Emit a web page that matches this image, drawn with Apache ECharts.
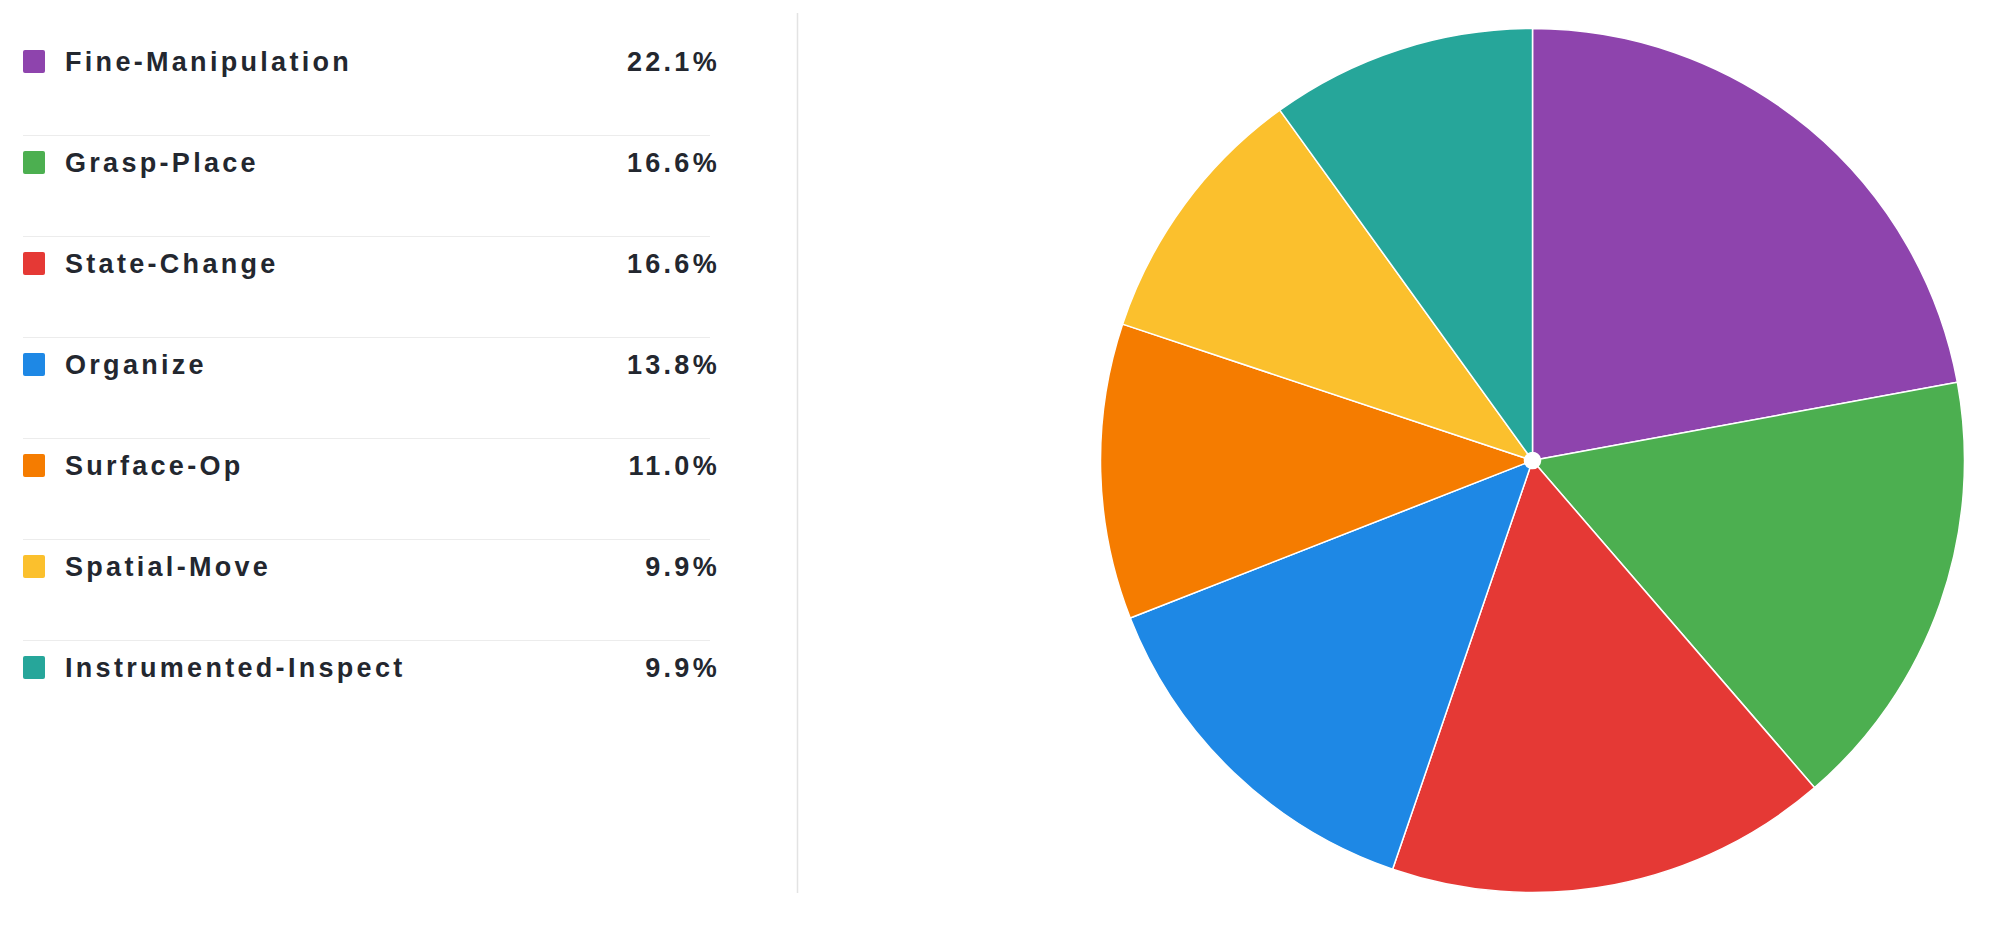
<!DOCTYPE html>
<html>
<head>
<meta charset="utf-8">
<script src="https://cdn.jsdelivr.net/npm/echarts@6/dist/echarts.min.js"></script>
<style>
  html, body { margin: 0; padding: 0; background: #ffffff; }
  #chart { width: 2000px; height: 930px; }
  #chart svg text { letter-spacing: 3.3px !important; }
</style>
</head>
<body>
<div id="chart"></div>
<script>
const categories = ['Fine-Manipulation', 'Grasp-Place', 'State-Change', 'Organize', 'Surface-Op', 'Spatial-Move', 'Instrumented-Inspect'];
const counts = [40, 30, 30, 25, 20, 18, 18];
const colors = ['#8E44AD', '#4CAF50', '#E53935', '#1E88E5', '#F57C00', '#FBC02D', '#26A69A'];

const total = counts.reduce((a, b) => a + b, 0);
const pctByName = {};
categories.forEach((c, i) => { pctByName[c] = (counts[i] / total * 100).toFixed(1) + '%'; });

const chart = echarts.init(document.getElementById('chart'), null, { renderer: 'svg' });

const separators = [];
for (let i = 0; i < categories.length - 1; i++) {
  separators.push({
    type: 'line',
    shape: { x1: 23, y1: 135.5 + i * 101, x2: 710, y2: 135.5 + i * 101 },
    style: { stroke: '#ececec', lineWidth: 1 },
    silent: true
  });
}
separators.push({
  type: 'line',
  shape: { x1: 797.5, y1: 13, x2: 797.5, y2: 893 },
  style: { stroke: '#e3e3e3', lineWidth: 1.5 },
  silent: true
});

const option = {
  animation: false,
  backgroundColor: '#ffffff',
  legend: {
    orient: 'vertical',
    left: 23,
    top: 48,
    padding: 0,
    itemWidth: 22,
    itemHeight: 23,
    itemGap: 74,
    selectedMode: false,
    icon: 'path://M2,0 H20 A2,2 0 0 1 22,2 V21 A2,2 0 0 1 20,23 H2 A2,2 0 0 1 0,21 V2 A2,2 0 0 1 2,0 Z',
    itemStyle: { borderWidth: 0 },
    formatter: name => '{n|' + name + '}{v|' + pctByName[name] + '}',
    textStyle: {
      rich: {
        n: {
          fontFamily: '"Liberation Sans", Arial, sans-serif',
          fontWeight: 'bold',
          fontSize: 27,
          color: '#23272f',
          lineHeight: 23,
          width: 480,
          padding: [0, 0, 0, 15],
          align: 'left'
        },
        v: {
          fontFamily: '"Liberation Sans", Arial, sans-serif',
          fontWeight: 'bold',
          fontSize: 27,
          color: '#23272f',
          lineHeight: 23,
          width: 175,
          align: 'right'
        }
      }
    }
  },
  graphic: separators,
  series: [{
    type: 'pie',
    center: [1532.5, 460.5],
    radius: [8, 432],
    startAngle: 90,
    clockwise: true,
    label: { show: false },
    labelLine: { show: false },
    emphasis: { disabled: true },
    itemStyle: { borderColor: '#ffffff', borderWidth: 1.5 },
    data: categories.map((c, i) => ({ name: c, value: counts[i], itemStyle: { color: colors[i] } }))
  }]
};
chart.setOption(option);
</script>
</body>
</html>
